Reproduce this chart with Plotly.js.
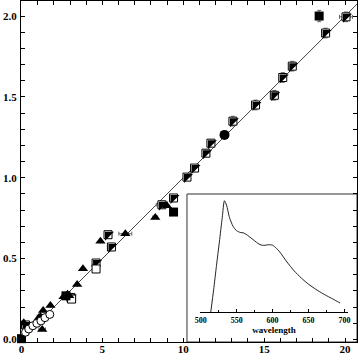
<!DOCTYPE html>
<html><head><meta charset="utf-8">
<script src="https://cdn.plot.ly/plotly-3.0.1.min.js"></script>
<style>html,body{margin:0;padding:0;background:#fff}#c{width:361px;height:356px}</style>
</head><body><div id="c"></div>
<script>
// main scatter data
var halfX = [20.06, 18.8, 16.74, 16.15, 15.63, 14.47, 13.07, 11.71, 11.4, 10.7, 10.23, 9.4, 8.68, 5.35, 5.56, 4.61, 3.05, 0.25];
var halfY = [1.995, 1.895, 1.69, 1.62, 1.51, 1.45, 1.35, 1.214, 1.152, 1.06, 1.004, 0.875, 0.833, 0.648, 0.572, 0.473, 0.26, 0.09];
var halfErrY = [0.03, 0.03, 0.03, 0.03, 0.03, 0.03, 0.03, 0.02, 0.02, 0.02, 0.015, 0.015, 0.02, 0.01, 0.01, 0.015, 0.01, 0.01];
var halfErrX = [0.4, 0, 0, 0, 0, 0, 0, 0, 0, 0, 0, 0, 0.35, 0, 0, 0, 0, 0];
var fillSqX = [18.4, 9.4, 2.75, 0.0];
var fillSqY = [2.0, 0.788, 0.27, 0.005];
var fillSqErrY = [0.035, 0, 0, 0];
var circFillX = [12.55];
var circFillY = [1.265];
var triX = [8.99, 8.27, 6.42, 4.88, 3.8, 3.44, 2.6, 2.85, 2.95, 1.79, 1.34, 1.17, 1.07, 1.28, 0.14];
var triY = [0.827, 0.755, 0.654, 0.607, 0.438, 0.34, 0.265, 0.28, 0.27, 0.21, 0.18, 0.142, 0.134, 0.062, 0.103];
var triErrX = [0, 0.15, 0.4, 0, 0, 0, 0, 0, 0, 0, 0, 0.2, 0, 0.2, 0];
var openSqX = [4.61, 3.1];
var openSqY = [0.436, 0.25];
var openCircX = [0.25, 0.45, 0.7, 0.95, 1.2, 1.45, 1.75];
var openCircY = [0.045, 0.065, 0.085, 0.1, 0.115, 0.135, 0.155];
var fitX = [0, 20.8];
var fitY = [0, 2.08];
// inset spectrum
var wavelength = [514, 518, 522, 526, 530, 533, 536, 540, 545, 550, 555, 560, 565, 570, 575, 580, 585, 590, 595, 600, 605, 610, 620, 630, 640, 650, 660, 670, 680, 690, 694];
var intensity = [0.0, 0.2, 0.42, 0.63, 0.85, 1.0, 0.96, 0.85, 0.77, 0.73, 0.715, 0.71, 0.69, 0.665, 0.64, 0.615, 0.6, 0.6, 0.605, 0.6, 0.575, 0.54, 0.45, 0.37, 0.305, 0.25, 0.205, 0.165, 0.13, 0.095, 0.08];
var xTickVals = [0, 5, 10, 15, 20];
var yTickVals = [0, 0.5, 1.0, 1.5, 2.0];
var yTickText = ['0.0', '0.5', '1.0', '1.5', '2.0'];

var errStyle = {color: '#666', thickness: 1, width: 2};
var traces = [
  {x: fitX, y: fitY, mode: 'lines', line: {color: '#444', width: 1}, hoverinfo: 'skip'},
  {x: halfX, y: halfY, mode: 'markers',
   marker: {symbol: 'square', size: 8, color: '#fff', line: {color: '#000', width: 1}},
   error_y: Object.assign({type: 'data', array: halfErrY, visible: true}, errStyle),
   error_x: Object.assign({type: 'data', array: halfErrX, visible: true}, errStyle)},
  {x: halfX, y: halfY, mode: 'markers',
   marker: {symbol: 'triangle-nw', size: 10, color: '#000', line: {width: 0}}},
  {x: openSqX, y: openSqY, mode: 'markers',
   marker: {symbol: 'square', size: 8, color: '#fff', line: {color: '#000', width: 1}}},
  {x: fillSqX, y: fillSqY, mode: 'markers', cliponaxis: false,
   marker: {symbol: 'square', size: 9, color: '#000'},
   error_y: Object.assign({type: 'data', array: fillSqErrY, visible: true}, errStyle)},
  {x: circFillX, y: circFillY, mode: 'markers',
   marker: {symbol: 'circle', size: 10, color: '#000'}},
  {x: triX, y: triY, mode: 'markers',
   marker: {symbol: 'triangle-up', size: 9, color: '#000'},
   error_x: Object.assign({type: 'data', array: triErrX, visible: true}, errStyle)},
  {x: openCircX, y: openCircY, mode: 'markers',
   marker: {symbol: 'circle', size: 8, color: '#fff', line: {color: '#000', width: 1}}},
  {x: wavelength, y: intensity, xaxis: 'x2', yaxis: 'y2', mode: 'lines',
   line: {color: '#222', width: 1, shape: 'spline', smoothing: 0.6}}
];

var tickFont = {family: 'Liberation Serif, Times New Roman, serif', size: 11, color: '#000', weight: 'bold'};
var layout = {
  width: 361, height: 356,
  margin: {l: 21, r: 4, t: 1, b: 14},
  paper_bgcolor: '#fff', plot_bgcolor: '#fff',
  showlegend: false,
  xaxis: {range: [-0.03, 20.74], showgrid: false, zeroline: false, showline: true, linecolor: '#000', linewidth: 1,
    mirror: 'ticks', ticks: 'inside', ticklen: 4, tickwidth: 1, tickcolor: '#000',
    tickvals: xTickVals, tickfont: tickFont, ticklabelstandoff: -3,
    minor: {dtick: 1, tick0: 0, ticks: 'inside', ticklen: 4, tickcolor: '#000', showgrid: false}},
  yaxis: {range: [-0.0155, 2.093], showgrid: false, zeroline: false, showline: true, linecolor: '#000', linewidth: 1,
    mirror: 'ticks', ticks: 'inside', ticklen: 4, tickwidth: 1, tickcolor: '#000',
    tickvals: yTickVals, ticktext: yTickText, tickfont: tickFont, ticklabelstandoff: 1,
    minor: {dtick: 0.1, tick0: 0, ticks: 'inside', ticklen: 4, tickcolor: '#000', showgrid: false}},
  xaxis2: {domain: [0.5327, 0.9732], anchor: 'y2', range: [499, 705], showgrid: false, zeroline: false,
    showline: true, linecolor: '#000', linewidth: 1, ticks: 'inside', ticklen: 3, tickcolor: '#000',
    dtick: 50, tick0: 500,
    tickfont: {family: 'Liberation Serif, serif', size: 8, color: '#000', weight: 'bold'},
    minor: {dtick: 25, tick0: 500, ticks: 'inside', ticklen: 2, tickcolor: '#000', showgrid: false},
    title: {text: 'wavelength', standoff: 0, font: {family: 'Liberation Serif, serif', size: 9, color: '#000', weight: 'bold'}}},
  yaxis2: {domain: [0.088, 0.428], anchor: 'x2', range: [0, 1.042], visible: false},
  shapes: [{type: 'rect', xref: 'paper', yref: 'paper', x0: 0.494, x1: 1.0, y0: 0, y1: 0.434,
    layer: 'below', fillcolor: '#fff', line: {color: '#2b352b', width: 1}}]
};
Plotly.newPlot('c', traces, layout, {staticPlot: true, displayModeBar: false});
</script></body></html>
